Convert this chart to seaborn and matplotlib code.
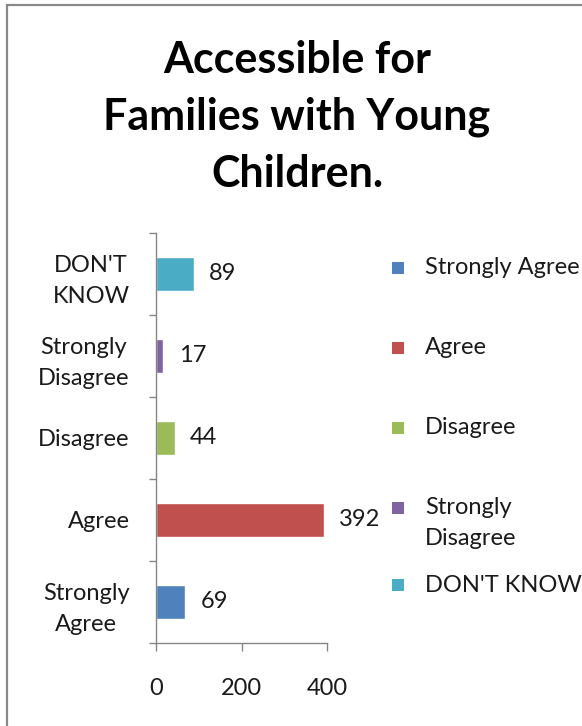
import matplotlib
matplotlib.use("Agg")
import matplotlib.pyplot as plt
import matplotlib.patches as mpatches
import seaborn as sns
import pandas as pd

# Survey responses: "Accessible for families with young children"
categories = ["DON'T KNOW", "Strongly Disagree", "Disagree", "Agree", "Strongly Agree"]
tick_labels = ["DON'T\nKNOW", "Strongly\nDisagree", "Disagree", "Agree", "Strongly\nAgree"]
counts = [89, 17, 44, 392, 69]
colors = ["#4BACC6", "#8064A2", "#9BBB59", "#C0504D", "#4F81BD"]
x_ticks = [0, 200, 400]

legend_order = ["Strongly Agree", "Agree", "Disagree", "Strongly Disagree", "DON'T KNOW"]
legend_labels = ["Strongly Agree", "Agree", "Disagree", "Strongly\nDisagree", "DON'T KNOW"]

sns.set_theme(style="white")
plt.rcParams["font.family"] = ["Lato", "DejaVu Sans"]

W, H = 582, 726
fig = plt.figure(figsize=(W / 100, H / 100), dpi=100)
fig.patch.set_facecolor("white")

# chart frame (runs off the right and bottom edges)
frame = mpatches.Rectangle((7 / W, -0.05), 1.2, 1 - 5 / H + 0.05,
                           transform=fig.transFigure, fill=False,
                           edgecolor="#898989", linewidth=1.6, zorder=0)
fig.patches.append(frame)

ax = fig.add_axes([156 / W, 83 / H, 171 / W, 410 / H])
df = pd.DataFrame({"category": categories, "count": counts})
sns.barplot(data=df, x="count", y="category", hue="category", order=categories,
            palette=dict(zip(categories, colors)), width=0.41, legend=False,
            saturation=1, ax=ax)

for cont in ax.containers:
    ax.bar_label(cont, padding=11, fontsize=17, color="#1a1a1a")

ax.set_xlim(0, 400)
ax.set_ylim(4.5, -0.5)
ax.set_xticks(x_ticks)
ax.set_xticklabels([str(v) for v in x_ticks], fontsize=17, color="#1a1a1a")
ax.set_yticks(range(len(categories)))
ax.set_yticklabels(tick_labels, fontsize=17, color="#1a1a1a",
                   multialignment="center", linespacing=1.6)
ax.set_yticks([i - 0.5 for i in range(len(categories) + 1)], minor=True)
ax.tick_params(axis="y", which="major", length=0, pad=19)
ax.tick_params(axis="y", which="minor", length=5, width=1, color="#868686", left=True)
ax.tick_params(axis="x", which="major", length=6, width=1, color="#868686",
               bottom=True, pad=19)
ax.set_xlabel("")
ax.set_ylabel("")
for side in ["top", "right"]:
    ax.spines[side].set_visible(False)
for side in ["left", "bottom"]:
    ax.spines[side].set_color("#868686")
    ax.spines[side].set_linewidth(1)
ax.set_facecolor("none")

# title
fig.text(297 / W, 1 - 117 / H, "Accessible for\nFamilies with Young\nChildren.",
         ha="center", va="center", fontsize=31, fontweight="bold",
         linespacing=1.52, color="black")

# legend entries
color_of = dict(zip(categories, colors))
legend_y = [268, 348, 428, 523, 585]
for name, label, yc in zip(legend_order, legend_labels, legend_y):
    square_y = yc if "\n" not in label else yc - 15
    fig.patches.append(mpatches.Rectangle((392 / W, 1 - (square_y + 6) / H),
                                          12 / W, 12 / H, transform=fig.transFigure,
                                          facecolor=color_of[name], edgecolor="none"))
    fig.text(425 / W, 1 - yc / H, label, ha="left", va="center", fontsize=17,
             color="#1a1a1a", linespacing=1.6)

fig.savefig("out.png", dpi=100)
